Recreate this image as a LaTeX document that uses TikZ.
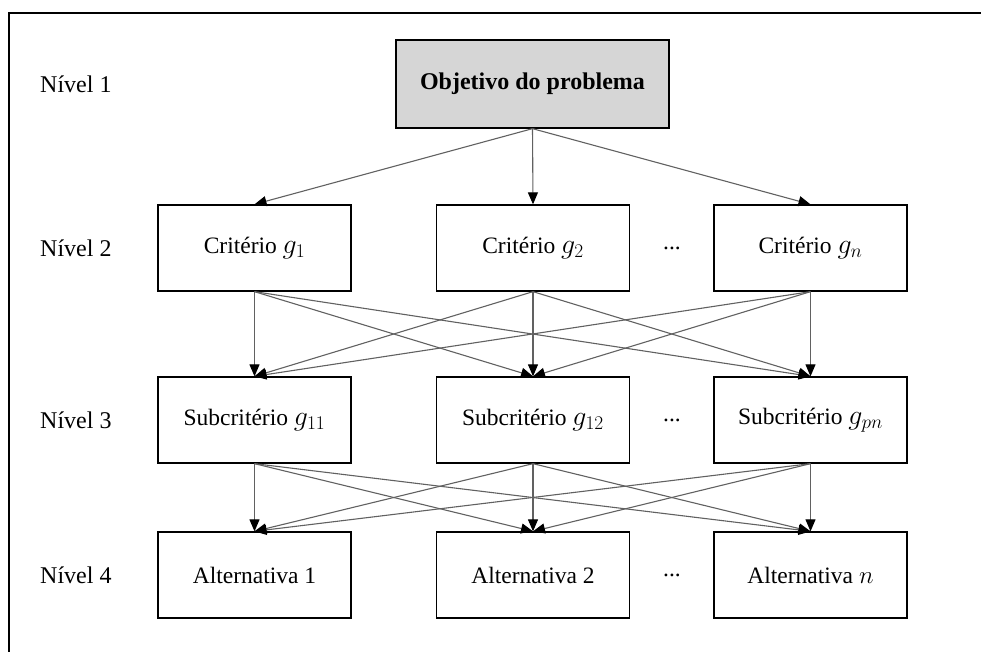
\documentclass[tikz,border=0pt]{standalone}
\usepackage{fontspec}
\setmainfont{Liberation Serif}
\usetikzlibrary{arrows.meta}
% criterion symbol g with index, slightly enlarged to sit with the serif text
\newcommand{\critsym}[1]{\scalebox{1.12}{$g_{#1}$}}
\begin{document}
\begin{tikzpicture}[x=1pt,y=-1pt,
  box/.style={draw=black, line width=1.3pt, minimum width=193pt, minimum height=86pt,
    inner sep=0pt, font=\fontsize{23.5}{28}\selectfont},
  goal/.style={box, fill=black!16, minimum width=273pt, minimum height=88pt,
    font=\fontsize{24}{28}\selectfont\bfseries},
  levellabel/.style={anchor=west, inner sep=0pt, font=\fontsize{24}{28}\selectfont},
  ellipsisnode/.style={inner sep=0pt, font=\fontsize{23.5}{28}\selectfont},
  link/.style={draw=black!62, line width=1.1pt,
    -{Triangle[length=12pt,width=10pt,color=black]}}
]
\useasboundingbox (0,0) rectangle (981,652);
% frame (top and left edges)
\draw[line width=1.8pt] (9,652) -- (9,13) -- (981,13);

% level labels
\node[levellabel] (l1) at (40,84)  {Nível 1};
\node[levellabel] (l2) at (40,248) {Nível 2};
\node[levellabel] (l3) at (40,420) {Nível 3};
\node[levellabel] (l4) at (40,575) {Nível 4};

% goal
\node[goal] (obj) at (532.5,84) {Objetivo do problema};

% criteria
\node[box] (c1) at (254.5,248) {Critério \critsym{1}};
\node[box] (c2) at (533,248)   {Critério \critsym{2}};
\node[box] (c3) at (810.5,248) {Critério \critsym{n}};

% sub-criteria
\node[box] (s1) at (254.5,420) {Subcritério \critsym{11}};
\node[box] (s2) at (533,420)   {Subcritério \critsym{12}};
\node[box] (s3) at (810.5,420) {Subcritério \critsym{pn}};

% alternatives
\node[box] (a1) at (254.5,575) {Alternativa 1};
\node[box] (a2) at (533,575)   {Alternativa 2};
\node[box] (a3) at (810.5,575) {Alternativa $n$};

% ellipses between columns
\node[ellipsisnode] (d2) at (672,248) {...};
\node[ellipsisnode] (d3) at (672,420) {...};
\node[ellipsisnode] (d4) at (672,575) {...};

% connections
\foreach \t in {c1,c2,c3}
  \draw[link] (obj.south) -- (\t.north);
\foreach \s in {c1,c2,c3}
  \foreach \t in {s1,s2,s3}
    \draw[link] (\s.south) -- (\t.north);
\foreach \s in {s1,s2,s3}
  \foreach \t in {a1,a2,a3}
    \draw[link] (\s.south) -- (\t.north);
\end{tikzpicture}
\end{document}
